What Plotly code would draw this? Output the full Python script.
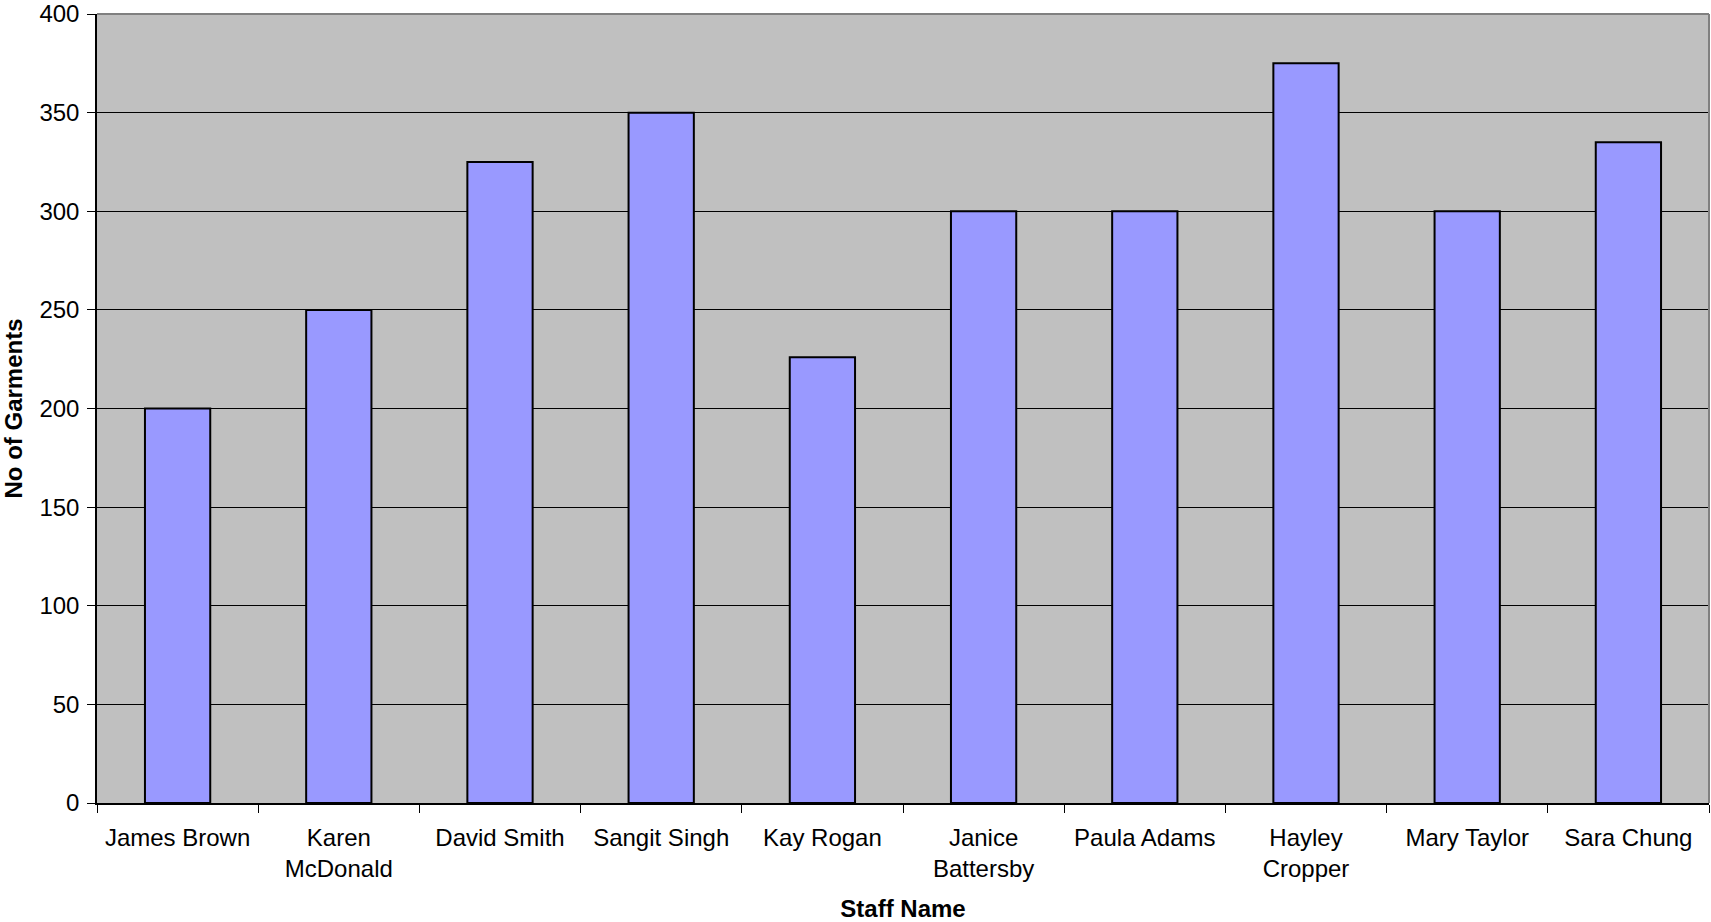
import plotly.graph_objects as go

staff = ["James Brown", "Karen<br>McDonald", "David Smith", "Sangit Singh", "Kay Rogan",
         "Janice<br>Battersby", "Paula Adams", "Hayley<br>Cropper", "Mary Taylor", "Sara Chung"]
garments = [200, 250, 325, 350, 226, 300, 300, 375, 300, 335]
y_ticks = [0, 50, 100, 150, 200, 250, 300, 350, 400]

FONT = "Liberation Sans, Arial, sans-serif"

fig = go.Figure(go.Bar(
    x=staff, y=garments, width=0.405,
    marker=dict(color="#9999FF", line=dict(color="#000000", width=2)),
))

fig.update_layout(
    width=1711, height=922,
    margin=dict(l=97, r=2, t=14, b=119, autoexpand=False),
    paper_bgcolor="white", plot_bgcolor="#C0C0C0",
    font=dict(family=FONT, size=24, color="black"),
    showlegend=False, bargap=0.595,
    shapes=[
        dict(type="line", xref="paper", yref="paper", x0=0, x1=1, y0=1, y1=1,
             line=dict(color="#808080", width=2)),
        dict(type="line", xref="paper", yref="paper", x0=1, x1=1, y0=0, y1=1,
             line=dict(color="#808080", width=2)),
    ],
)

fig.update_xaxes(
    type="category", tickson="boundaries", ticks="outside", ticklen=8, tickcolor="black",
    tickwidth=1, showline=True, linecolor="black", linewidth=1.5, showgrid=False,
    tickfont=dict(size=24), automargin=False, ticklabelstandoff=12,
    title=dict(text="<b>Staff Name</b>", font=dict(size=24), standoff=19),
)
fig.update_yaxes(
    range=[0, 400], tickvals=y_ticks, ticks="outside", ticklen=8, tickcolor="black",
    tickwidth=1, showline=True, linecolor="black", linewidth=1.5,
    showgrid=True, gridcolor="black", gridwidth=1, zeroline=False,
    tickfont=dict(size=24), automargin=False, ticklabelstandoff=3,
    ticklabeloverflow="allow",
    title=dict(text="<b>No of Garments</b>", font=dict(size=24), standoff=11),
)

fig.write_html("out.html")
